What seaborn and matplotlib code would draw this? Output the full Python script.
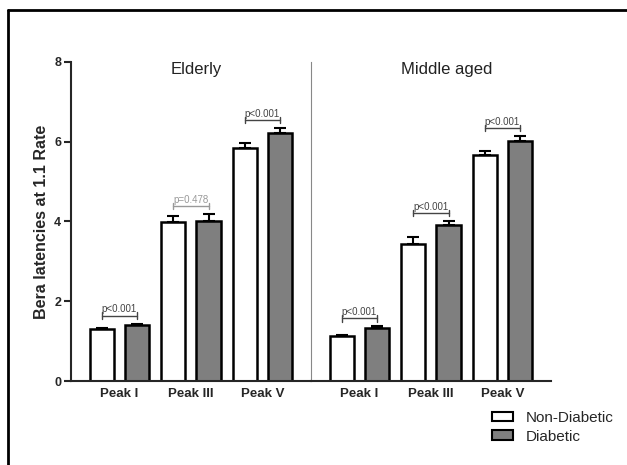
import numpy as np
import pandas as pd
import matplotlib.pyplot as plt
import seaborn as sns
from matplotlib.patches import Patch
from matplotlib.lines import Line2D

# ---------------- data ----------------
peaks = ['Peak I', 'Peak III', 'Peak V']
groups = ['Non-Diabetic', 'Diabetic']
ages = ['Elderly', 'Middle aged']

elderly_non = [1.30, 3.98, 5.84]
elderly_non_err = [0.04, 0.17, 0.12]
elderly_dia = [1.40, 4.01, 6.22]
elderly_dia_err = [0.04, 0.18, 0.12]

middle_non = [1.13, 3.43, 5.66]
middle_non_err = [0.03, 0.17, 0.10]
middle_dia = [1.33, 3.91, 6.01]
middle_dia_err = [0.04, 0.10, 0.13]

elderly_p = ['p<0.001', 'p=0.478', 'p<0.001']
middle_p = ['p<0.001', 'p<0.001', 'p<0.001']

palette = {'Non-Diabetic': 'white', 'Diabetic': '#7f7f7f'}

# ---------------- style ----------------
sns.set_style('ticks')
plt.rcParams['font.family'] = ['Liberation Sans', 'DejaVu Sans']


def make_df(non, non_err, dia, dia_err):
    df = pd.DataFrame({
        'peak': peaks * 2,
        'group': [groups[0]] * 3 + [groups[1]] * 3,
        'value': non + dia,
        'err': non_err + dia_err,
    })
    return df


panels = [
    (make_df(elderly_non, elderly_non_err, elderly_dia, elderly_dia_err), elderly_p, ages[0], 0.52),
    (make_df(middle_non, middle_non_err, middle_dia, middle_dia_err), middle_p, ages[1], 0.565),
]

fig = plt.figure(figsize=(6.27, 4.65), dpi=100)
W, H = 627, 465
ax_l = fig.add_axes([71 / W, 1 - 381 / H, 240 / W, 319 / H])
ax_r = fig.add_axes([311 / W, 1 - 381 / H, 240 / W, 319 / H])

for ax, (df, pvals, title, tx) in zip([ax_l, ax_r], panels):
    sns.barplot(data=df, x='peak', y='value', hue='group', order=peaks,
                hue_order=groups, palette=palette, width=0.99, gap=0.32,
                edgecolor='black', linewidth=1.8, errorbar=None, legend=False, ax=ax)

    # one-sided (upper) SEM bars, GraphPad style
    centers = {}
    tops = {}
    for g, cont in zip(groups, ax.containers):
        sub = df[df['group'] == g].set_index('peak').loc[peaks]
        xs = [b.get_x() + b.get_width() / 2 for b in cont]
        ys = sub['value'].values
        es = sub['err'].values
        ax.errorbar(xs, ys, yerr=[np.zeros_like(es), es], fmt='none',
                    ecolor='black', elinewidth=1.5, capsize=4.3, capthick=1.5, zorder=1)
        centers[g] = xs
        tops[g] = ys + es

    # significance brackets
    for j, p in enumerate(pvals):
        xl, xr = centers[groups[0]][j], centers[groups[1]][j]
        yb = max(tops[groups[0]][j], tops[groups[1]][j]) + 0.2
        col = '#999999' if p == 'p=0.478' else '#444444'
        ax.plot([xl, xr], [yb, yb], color=col, lw=1)
        ax.plot([xl, xl], [yb - 0.08, yb + 0.08], color=col, lw=1)
        ax.plot([xr, xr], [yb - 0.08, yb + 0.08], color=col, lw=1)
        ax.text((xl + xr) / 2, yb + 0.03, p, ha='center', va='bottom',
                fontsize=7, color=col)

    ax.text(tx, 7.8, title, transform=ax.get_yaxis_transform(), ha='center',
            va='center', fontsize=12, color='#222222')

    ax.set_xlim(-0.675, 2.68)
    ax.set_ylim(0, 8)
    ax.set_xlabel('')
    ax.tick_params(axis='x', length=0, pad=5)
    for lab in ax.get_xticklabels():
        lab.set_fontweight('bold')
        lab.set_fontsize(9.5)
    ax.spines['top'].set_visible(False)
    ax.spines['right'].set_visible(False)
    ax.spines['bottom'].set_linewidth(1.5)

# left axis
ax_l.set_yticks([0, 2, 4, 6, 8])
ax_l.set_yticklabels(['0', '2', '4', '6', '8'], fontsize=9, fontweight='bold')
ax_l.tick_params(axis='y', length=5, width=1.5, pad=2)
ax_l.spines['left'].set_linewidth(1.5)
ax_l.set_ylabel('Bera latencies at 1.1 Rate', fontsize=11.5, fontweight='bold', labelpad=4)

# right axis: only a thin gray divider
ax_r.set_ylabel('')
ax_r.set_yticks([])
ax_r.spines['left'].set_color('#888888')
ax_r.spines['left'].set_linewidth(0.8)

# legend
handles = [Patch(facecolor=palette[g], edgecolor='black', linewidth=1.5, label=g) for g in groups]
fig.legend(handles=handles, loc='upper left', bbox_to_anchor=(492 / W, 1 - 411 / H),
           frameon=False, fontsize=11, handlelength=1.4, handleheight=0.6,
           handletextpad=0.8, labelspacing=0.3, borderpad=0, borderaxespad=0)

# outer image frame (top and left edges visible)
fig.add_artist(Line2D([8 / W, 1], [1 - 10 / H, 1 - 10 / H], color='black', lw=2,
                      transform=fig.transFigure))
fig.add_artist(Line2D([8 / W, 8 / W], [0, 1 - 10 / H], color='black', lw=2,
                      transform=fig.transFigure))

fig.savefig('out.png', dpi=100)
